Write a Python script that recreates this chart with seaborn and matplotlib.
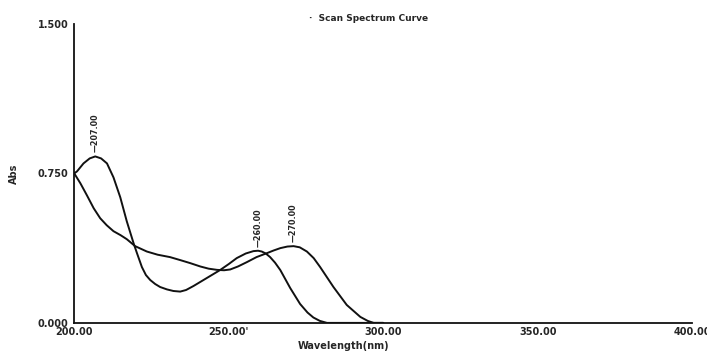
import numpy as np
import pandas as pd
import matplotlib
matplotlib.use("Agg")
import matplotlib.pyplot as plt
import seaborn as sns

# curva 1 (picos 207 / 260)
nm_a = [200, 200.9, 203, 205, 206.8, 208.7, 210.6, 212.7, 214.9, 217, 219.2, 220.3, 221.9, 223.2,
        224.6, 226.2, 227.8, 230, 232.1, 234.3, 236.2, 238.6, 242.9, 247.2, 250, 252.6, 255.5, 258,
        259.5, 260.7, 262, 263.4, 265, 266.7, 269.9, 273.1, 275.5, 277.4, 279.5, 281.8, 300]
abs_a = [0.75, 0.76, 0.80, 0.825, 0.835, 0.825, 0.80, 0.73, 0.63, 0.51, 0.40, 0.35, 0.28, 0.24,
         0.215, 0.195, 0.18, 0.168, 0.16, 0.157, 0.165, 0.185, 0.225, 0.265, 0.295, 0.325, 0.348, 0.36,
         0.362, 0.358, 0.348, 0.33, 0.302, 0.265, 0.175, 0.095, 0.052, 0.027, 0.01, 0.0, 0.0]

# curva 2 (pico 270)
nm_b = [200, 202, 204.1, 206.3, 208.4, 210.5, 212.7, 215, 217, 219.7, 223.5, 227, 231, 234.3, 237.5,
        240.8, 243.5, 246.2, 248.5, 250.5, 253, 255.9, 259, 262.4, 264.5, 266.7, 269, 271, 273,
        275.3, 277.5, 279.6, 283.9, 288.2, 292.6, 295, 296.9, 300]
abs_b = [0.75, 0.70, 0.64, 0.575, 0.525, 0.49, 0.46, 0.44, 0.42, 0.385, 0.358, 0.342, 0.33, 0.315, 0.30,
         0.283, 0.272, 0.266, 0.264, 0.268, 0.283, 0.305, 0.33, 0.35, 0.363, 0.375, 0.383, 0.385, 0.379,
         0.358, 0.325, 0.28, 0.18, 0.09, 0.03, 0.01, 0.0, 0.0]

picos_x = [206.8, 259.5, 271]
picos_y = [0.835, 0.362, 0.385]
picos_txt = ["207.00", "260.00", "270.00"]

xticks = [200, 250, 300, 350, 400]
xlabels = ["200.00", "250.00'", "300.00", "350.00", "400.00"]
yticks = [0.0, 0.75, 1.5]
ylabels = ["0.000", "0.750", "1.500"]

df = pd.concat([
    pd.DataFrame({"nm": nm_a, "abs": abs_a, "curva": "a"}),
    pd.DataFrame({"nm": nm_b, "abs": abs_b, "curva": "b"}),
])

sns.set_style("white")
fig = plt.figure(figsize=(7.07, 3.56), dpi=100)
ax = fig.add_axes([0.105, 0.093, 0.874, 0.84])

sns.lineplot(data=df, x="nm", y="abs", hue="curva", palette=["#111111", "#111111"],
             linewidth=1.4, legend=False, ax=ax, estimator=None, sort=False)

ax.set_xlim(200, 400)
ax.set_ylim(0, 1.5)
ax.set_xticks(xticks)
ax.set_xticklabels(xlabels, fontsize=7, fontweight="bold")
ax.set_yticks(yticks)
ax.set_yticklabels(ylabels, fontsize=7, fontweight="bold")
ax.tick_params(axis="x", direction="in", length=4, width=0.8, pad=3)
ax.tick_params(axis="y", direction="inout", length=4, width=0.8, pad=2)

for s in ["top", "right"]:
    ax.spines[s].set_visible(False)
for s in ["left", "bottom"]:
    ax.spines[s].set_linewidth(1.3)
    ax.spines[s].set_color("#111111")

ax.set_xlabel("Wavelength(nm)", fontsize=7, fontweight="bold")
ax.xaxis.set_label_coords(0.435, -0.06)
ax.set_ylabel("Abs", fontsize=7, fontweight="bold")
ax.yaxis.set_label_coords(-0.09, 0.5)

for px, py, t in zip(picos_x, picos_y, picos_txt):
    ax.text(px, py + 0.02, "\u2014" + t, rotation=90, ha="center", va="bottom",
            fontsize=5.8, fontweight="bold")

fig.text(0.522, 0.948, "\u00b7  Scan Spectrum Curve", ha="center", va="center",
         fontsize=6.5, fontweight="bold")

fig.savefig("out.png", dpi=100)
